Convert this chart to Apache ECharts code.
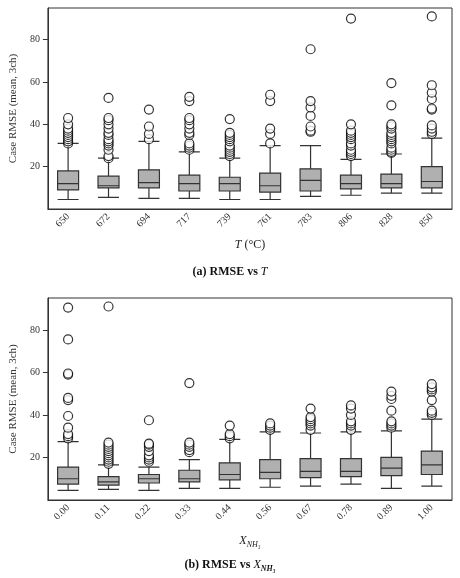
<!DOCTYPE html>
<html><head><meta charset="utf-8">
<script src="https://cdn.jsdelivr.net/npm/echarts@6/dist/echarts.min.js"></script>
<style>html,body{margin:0;padding:0;background:#fff}#c{width:460px;height:578px}</style>
</head><body><div id="c"></div>
<script>
const catsT = ['650','672','694','717','739','761','783','806','828','850'];
const catsX = ['0.00','0.11','0.22','0.33','0.44','0.56','0.67','0.78','0.89','1.00'];
const boxesT = [
 [4.5,9,12,18,31],[5.5,10,11,15.5,24],[5,10,12.5,18.5,32],[5,8.5,12,16,27],[4.5,8.5,12,15,24],
 [4.5,8,11,17,30],[6,8.5,13.5,19,30],[6.5,9.5,12,16,23.5],[7.5,10,12,16.5,26],[7.5,10,13,20,33.5]];
const outT = [
 [31,32,33,34,35,36,37,38,40,43],
 [24,25,28,30,31,32,33,35,36,38,40,42,43,52.5],
 [33,35.5,39,47],
 [28,29,30,31,35,36,38,40,42,43,51,53],
 [25,26,27,28,29,30,32,33,34,35,36,42.5],
 [31,35.5,38,51,54],
 [36.5,37,39,44,48,51,75.5],
 [25,26,27,28,30,31,33,34,35,36,37,40,90],
 [26.5,27,28,29,31,32,33,34,35,36,38,39,40,49,59.5],
 [35.5,36.5,38,39.5,47,47.5,52,55,58.5,91]];
const boxesX = [
 [4.5,7.5,10,15.5,27.5],[5,7,8.5,11,16.5],[4.5,8,10,12,15.5],[5.5,8.5,10,14,19],[5.5,9.5,12,17.5,28.5],
 [6,10,13,19,32],[6.5,10.5,13.5,19.5,31.5],[7.5,11,13.5,19.5,32],[5.5,11.5,15,20,32.5],[6.5,12,16.5,23,38]];
const outX = [
 [29,30,31,34,39.5,47,48,59,59.5,75.5,90.5],
 [17,18,19,20,21,22,23,24,25,26,27,91],
 [18,19,20,21,23,25,26,26.5,37.5],
 [22.5,23.5,25,26,27,55],
 [29,30,31,35],
 [33,34,35,36],
 [33,35,36,37,38,39,43],
 [33,35,36,37,40,43,44.5],
 [34,35,36,37,42,47.5,49,51],
 [40,41,42,47,51,52,53,54.5]];

const F = 'Liberation Serif';
function flat(o){const r=[];o.forEach((a,i)=>a.forEach(v=>r.push([i,v])));return r;}
function xAxis(idx, cats, name, gap){
 return {type:'category',gridIndex:idx,data:cats,boundaryGap:true,
  name:name,nameLocation:'middle',nameGap:gap,
  nameTextStyle:{fontFamily:F,fontSize:12,color:'#222',rich:{i:{fontStyle:'italic',fontFamily:F,fontSize:12},s:{fontStyle:'italic',fontFamily:F,fontSize:8,padding:[8,0,0,0]}}},
  axisLine:{lineStyle:{color:'#333'}},axisTick:{alignWithLabel:true,lineStyle:{color:'#333'}},
  axisLabel:{rotate:45,fontFamily:F,fontSize:10,color:'#333',margin:6},splitLine:{show:false}};
}
function yAxis(idx){
 return {type:'value',gridIndex:idx,min:0,max:95,interval:20,
  name:'Case RMSE (mean, 3ch)',nameLocation:'middle',nameGap:24,
  nameTextStyle:{fontFamily:F,fontSize:11,color:'#333'},
  axisLine:{show:true,lineStyle:{color:'#333'}},axisTick:{show:true,lineStyle:{color:'#333'}},
  axisLabel:{fontFamily:F,fontSize:10,color:'#333',showMinLabel:false,showMaxLabel:false},splitLine:{show:false}};
}
function series(idx, boxes, outs){
 return [{type:'boxplot',xAxisIndex:idx,yAxisIndex:idx,data:boxes,boxWidth:[21,21],
   itemStyle:{color:'#b0b0b0',borderColor:'#333',borderWidth:1.2},silent:true},
  {type:'scatter',xAxisIndex:idx,yAxisIndex:idx,data:flat(outs),symbol:'circle',symbolSize:9,
   itemStyle:{color:'#fff',borderColor:'#000',borderWidth:1.2},silent:true}];
}
const chart = echarts.init(document.getElementById('c'),null,{renderer:'canvas'});
chart.setOption({
 animation:false,
 grid:[{left:41,top:8,width:411,height:201,show:true,borderColor:'#333',borderWidth:1},
       {left:41,top:298,width:411,height:202,show:true,borderColor:'#333',borderWidth:1}],
 xAxis:[xAxis(0,catsT,'{i|T} (°C)',30),xAxis(1,catsX,'{i|X}{s|NH₃}',33)],
 yAxis:[yAxis(0),yAxis(1)],
 series:[...series(0,boxesT,outT),...series(1,boxesX,outX)],
 title:[{text:'(a) RMSE vs {i|T}',left:'center',top:261,textStyle:{fontFamily:F,fontSize:12,fontWeight:'bold',color:'#111',rich:{i:{fontFamily:F,fontSize:12,fontStyle:'italic',fontWeight:'normal'}}}},
        {text:'(b) RMSE vs {i|X}{s|NH₃}',left:'center',top:552,textStyle:{fontFamily:F,fontSize:12,fontWeight:'bold',color:'#111',rich:{i:{fontFamily:F,fontSize:12,fontStyle:'italic',fontWeight:'normal'},s:{fontFamily:F,fontSize:8,fontStyle:'italic',padding:[8,0,0,0]}}}}]
});
</script></body></html>
